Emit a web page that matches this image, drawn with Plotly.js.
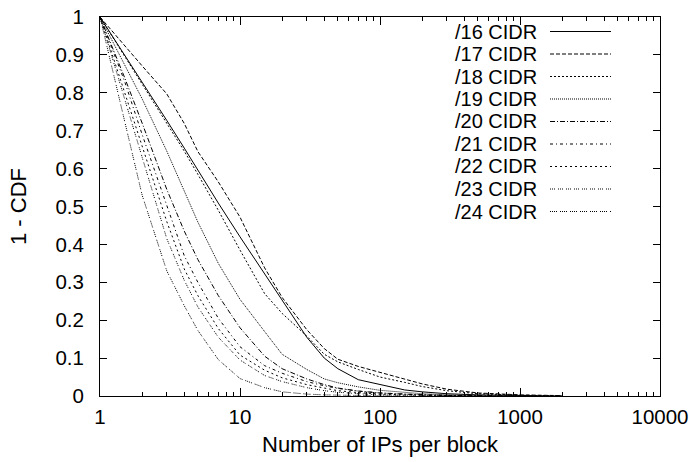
<!DOCTYPE html>
<html>
<head>
<meta charset="utf-8">
<script src="https://cdn.plot.ly/plotly-3.0.1.min.js"></script>
<style>html,body{margin:0;padding:0;background:#fff;}#chart{width:689px;height:462px;}</style>
</head>
<body>
<div id="chart"></div>
<script>
// Number of IPs per block (x) — shared sample points
const xVals = [1, 1.5, 2, 3, 4, 5, 7, 10, 15, 20, 30, 40, 50, 70, 100, 150, 200, 300, 500, 1000, 2000];
// 1 - CDF per CIDR size
const cidr16 = [1, 0.90, 0.828, 0.727, 0.654, 0.596, 0.509, 0.42, 0.322, 0.253, 0.155, 0.10, 0.072, 0.043, 0.03, 0.016, 0.011, 0.006, 0.003, 0.001, 0];
const cidr17 = [1, 0.923, 0.871, 0.797, 0.719, 0.645, 0.565, 0.472, 0.338, 0.26, 0.175, 0.125, 0.097, 0.078, 0.062, 0.045, 0.032, 0.018, 0.008, 0.003, 0.001];
const cidr18 = [1, 0.896, 0.823, 0.718, 0.646, 0.585, 0.49, 0.385, 0.27, 0.218, 0.158, 0.11, 0.09, 0.07, 0.05, 0.036, 0.025, 0.014, 0.006, 0.002, 0.0005];
const cidr19 = [1, 0.873, 0.784, 0.646, 0.541, 0.459, 0.35, 0.255, 0.17, 0.11, 0.07, 0.045, 0.035, 0.024, 0.015, 0.009, 0.006, 0.003, 0.001, 0, 0];
const cidr20 = [1, 0.84, 0.72, 0.545, 0.435, 0.36, 0.265, 0.18, 0.105, 0.072, 0.045, 0.03, 0.021, 0.013, 0.008, 0.004, 0.003, 0.0015, 0.0005, 0, 0];
const cidr21 = [1, 0.83, 0.69, 0.50, 0.37, 0.30, 0.205, 0.13, 0.08, 0.06, 0.038, 0.027, 0.02, 0.013, 0.008, 0.005, 0.003, 0.0015, 0.0005, 0, 0];
const cidr22 = [1, 0.80, 0.66, 0.46, 0.335, 0.265, 0.178, 0.108, 0.068, 0.048, 0.03, 0.02, 0.014, 0.009, 0.005, 0.003, 0.002, 0.001, 0, 0, 0];
const cidr23 = [1, 0.78, 0.63, 0.415, 0.305, 0.235, 0.155, 0.095, 0.054, 0.038, 0.022, 0.014, 0.01, 0.006, 0.003, 0.002, 0.001, 0.0005, 0, 0, 0];
const cidr24 = [1, 0.72, 0.53, 0.33, 0.238, 0.173, 0.096, 0.046, 0.022, 0.011, 0.005, 0.003, 0.002, 0.001, 0.0005, 0, 0, 0, 0, 0, 0];

const seriesNames = ['/16 CIDR', '/17 CIDR', '/18 CIDR', '/19 CIDR', '/20 CIDR', '/21 CIDR', '/22 CIDR', '/23 CIDR', '/24 CIDR'];
const seriesData = [cidr16, cidr17, cidr18, cidr19, cidr20, cidr21, cidr22, cidr23, cidr24];

const xTickVals = [1, 10, 100, 1000, 10000];
const xTickText = ['1', '10', '100', '1000', '10000'];
const yTickVals = [0, 0.1, 0.2, 0.3, 0.4, 0.5, 0.6, 0.7, 0.8, 0.9, 1];
const yTickText = ['0', '0.1', '0.2', '0.3', '0.4', '0.5', '0.6', '0.7', '0.8', '0.9', '1'];

// minor ticks at 2..9 of each decade
const xMinor = [];
for (let d = 1; d <= 1000; d *= 10) for (let m = 2; m <= 9; m++) xMinor.push(m * d);

const dashes = ['solid', '4px,2px', '2px,2px', '1px,1px', '5px,2px,1px,2px', '3px,3px,1px,3px', '2px,3px', '1px,1px,1px,1px,1px,3px', '1px,1px,1px,1px,1px,1px,1px,3px'];
const FONT = 'Liberation Sans, Arial, Helvetica, sans-serif';
const FS = 22;      // axis titles
const FS_TICK = 20.5;
const FS_LEG = 20;

// trim each series after it first reaches zero
const traces = seriesData.map((ys, i) => {
  let end = ys.length;
  for (let k = 0; k < ys.length; k++) { if (ys[k] === 0) { end = k + 1; break; } }
  return {
    x: xVals.slice(0, end), y: ys.slice(0, end), type: 'scatter', mode: 'lines',
    name: seriesNames[i], showlegend: false,
    line: {color: '#000', width: 1, dash: dashes[i]}
  };
});

// Plot geometry (pixels)
const W = 689, H = 462, L = 100, R = 29, T = 17, B = 66;
const pw = W - L - R, ph = H - T - B;
const px2paper = p => (p - L) / pw;
const py2paper = p => (H - B - p) / ph;

const annotations = [];
const shapes = [];
seriesNames.forEach((nm, i) => {
  const cy = 31.5 + 22.5 * i;
  annotations.push({
    xref: 'paper', yref: 'paper', x: px2paper(538), y: py2paper(cy),
    xanchor: 'right', yanchor: 'middle', text: nm, showarrow: false,
    borderpad: 0,
    font: {family: FONT, size: FS_LEG, color: '#000'}
  });
  shapes.push({
    type: 'line', xref: 'paper', yref: 'paper',
    x0: px2paper(550), x1: px2paper(611), y0: py2paper(cy), y1: py2paper(cy),
    line: {color: '#000', width: 1, dash: dashes[i]}
  });
});

const layout = {
  width: W, height: H,
  margin: {l: L, r: R, t: T, b: B, pad: 0},
  paper_bgcolor: '#fff', plot_bgcolor: '#fff',
  font: {family: FONT, size: FS, color: '#000'},
  showlegend: false,
  xaxis: {
    type: 'log', range: [0, 4], autorange: false,
    tickmode: 'array', tickvals: xTickVals, ticktext: xTickText,
    tickfont: {family: FONT, size: FS_TICK},
    ticks: 'inside', ticklen: 8, tickwidth: 1, tickcolor: '#000',
    minor: {tickmode: 'array', tickvals: xMinor, ticks: 'inside', ticklen: 4, tickwidth: 1, tickcolor: '#000', showgrid: false},
    showline: true, linecolor: '#000', linewidth: 1, mirror: 'allticks',
    showgrid: false, zeroline: false,
    ticklabelstandoff: 2, ticklabeloverflow: 'allow',
    title: {text: 'Number of IPs per block', font: {family: FONT, size: FS}, standoff: 10},
    automargin: false
  },
  yaxis: {
    range: [0, 1], autorange: false,
    tickvals: yTickVals, ticktext: yTickText,
    tickfont: {family: FONT, size: FS_TICK},
    ticks: 'inside', ticklen: 7, tickwidth: 1, tickcolor: '#000',
    showline: true, linecolor: '#000', linewidth: 1, mirror: 'allticks',
    showgrid: false, zeroline: false,
    ticklabelstandoff: 11, ticklabeloverflow: 'allow',
    title: {text: '1 - CDF', font: {family: FONT, size: FS}, standoff: 22},
    automargin: false
  },
  annotations: annotations,
  shapes: shapes
};

Plotly.newPlot('chart', traces, layout, {displayModeBar: false, staticPlot: true});
</script>
</body>
</html>
